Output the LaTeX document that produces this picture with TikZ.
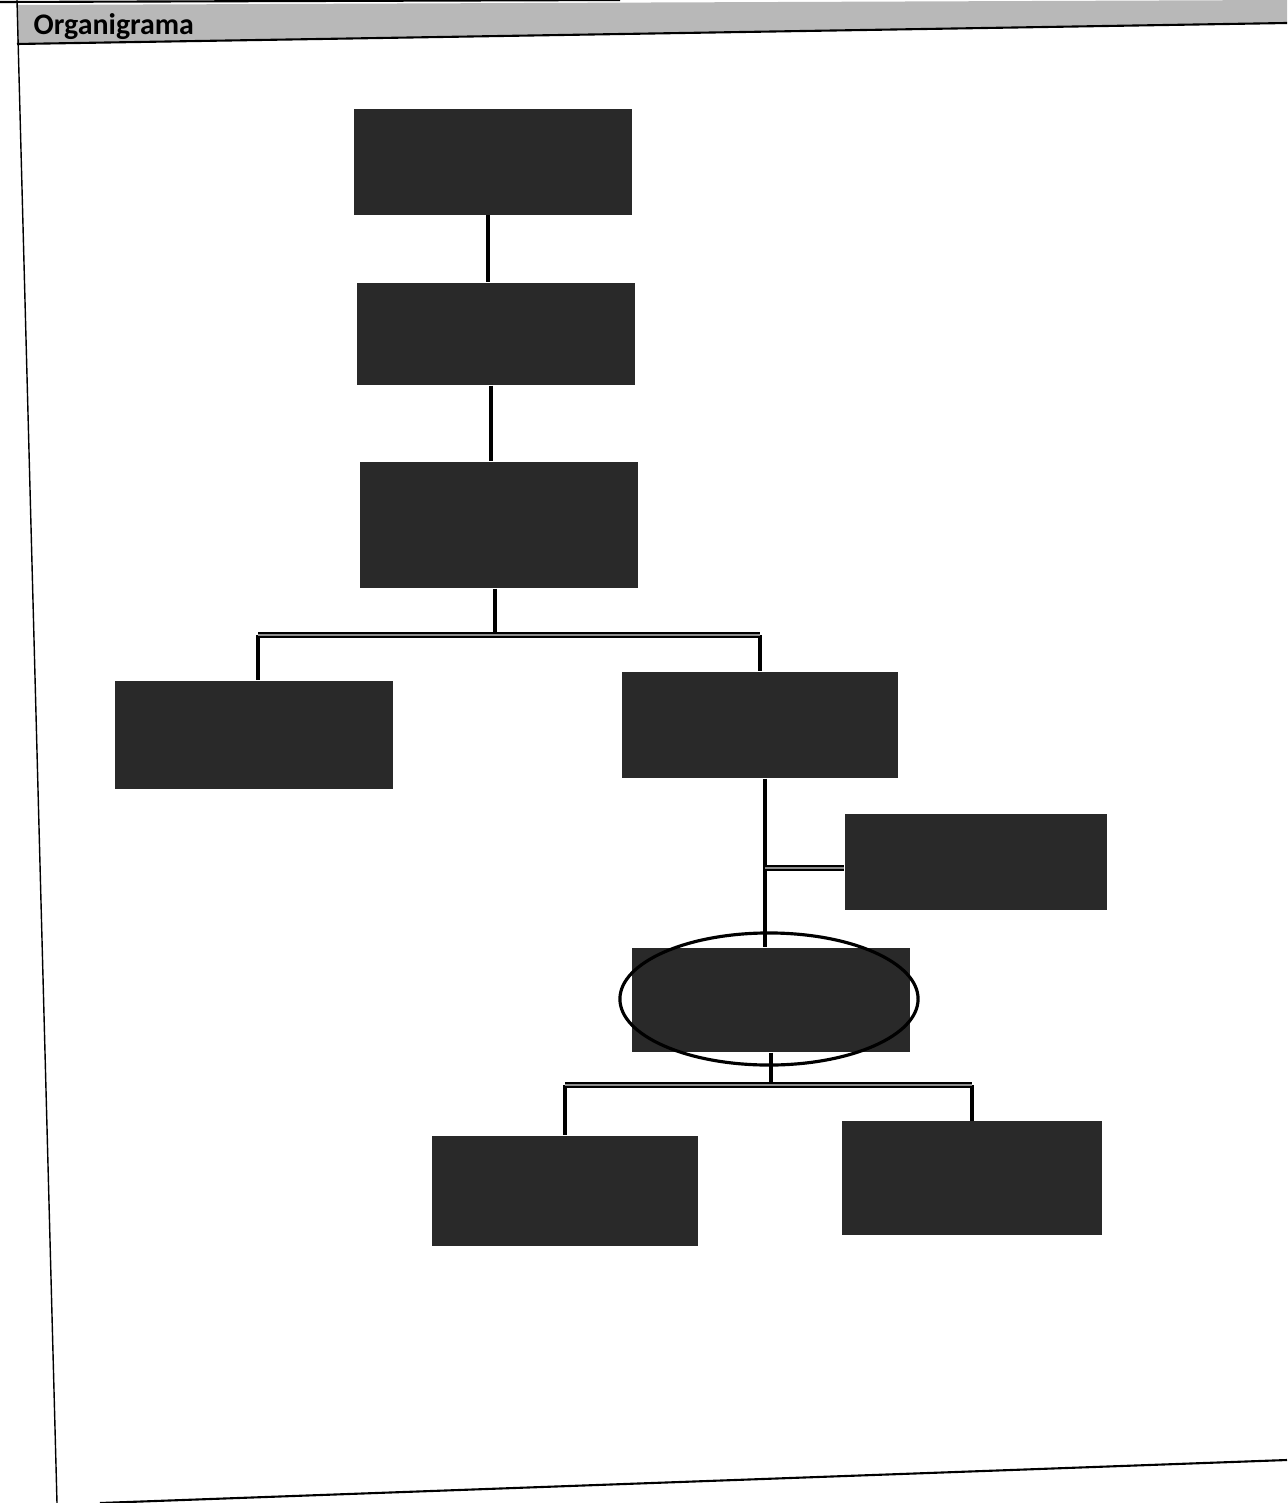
\documentclass[tikz,border=0pt]{standalone}
\usepackage{fontspec}
\setmainfont{Carlito}
\usetikzlibrary{shapes.geometric}
\begin{document}
\begin{tikzpicture}[
    x=0.01cm, y=-0.01cm,
    box/.style={fill=black!84, draw=none, minimum width=2.77cm, minimum height=1.05cm, inner sep=0pt},
    tall/.style={box, minimum height=1.26cm},
    link/.style={draw=black, line width=0.9pt},
    hbar/.style={draw=black, line width=0.5pt, double=black!45, double distance=0.8pt},
    ring/.style={ellipse, draw=black, line width=0.9pt, minimum width=2.98cm, minimum height=1.32cm, inner sep=0pt}
]
\useasboundingbox (0,0) rectangle (1287,1503);

% Header band and page frame
\fill[black!28] (17,5) -- (1287,0) -- (1287,23) -- (17,44) -- cycle;
\draw[line width=0.6pt] (0,2) -- (620,0);
\draw[line width=0.6pt] (17,44) -- (1287,23);
\draw[line width=0.4pt] (17,0) -- (57,1503);
\draw[line width=0.6pt] (100,1503) -- (1287,1460);
\node[anchor=base west, font=\fontsize{8.5}{9}\selectfont\bfseries, inner sep=0pt] (title) at (33,35) {Organigrama};

% Row 1 to 3 - Top chain
\node[box] (top) at (493,162) {};
\node[box, minimum height=1.02cm] (second) at (496,334) {};
\node[tall, minimum width=2.78cm] (third) at (499,525) {};

% Row 4 - Two branches
\node[box, minimum height=1.08cm] (left) at (254,735) {};
\node[box, minimum width=2.76cm, minimum height=1.06cm] (right) at (760,725) {};

% Row 5 - Side box
\node[box, minimum width=2.62cm, minimum height=0.95cm] (side) at (976,862) {};

% Row 6 - Circled box
\node[box, minimum height=1.04cm] (circled) at (771,1000) {};

% Row 7 - Bottom boxes
\node[box, minimum width=2.65cm, minimum height=1.10cm] (botleft) at (565,1191) {};
\node[box, minimum width=2.60cm, minimum height=1.13cm] (botright) at (972,1178) {};

% Connectors
\coordinate (bar1) at (495,635);
\coordinate (bar2) at (771,1085);
\draw[link] (top.south -| 488,0) -- (second.north -| 488,0);
\draw[link] (second.south -| 491,0) -- (third.north -| 491,0);
\draw[link] (third.south -| bar1) -- (bar1);
\draw[link] (258,0 |- bar1) -- (258,0 |- left.north);
\draw[link] (right.north |- bar1) -- (right.north);
\draw[hbar] (258,0 |- bar1) -- (right.north |- bar1);
\draw[link] (765,0 |- right.south) -- (765,0 |- circled.north);
\draw[hbar] (765,868) -- (side.west |- 0,868);
\draw[link] (circled.south) -- (bar2);
\draw[link] (botleft.north |- bar2) -- (botleft.north);
\draw[link] (botright.north |- bar2) -- (botright.north);
\draw[hbar] (botleft.north |- bar2) -- (botright.north |- bar2);

% Ring round the circled box
\node[ring] (mark) at (769,999) {};
\end{tikzpicture}
\end{document}
